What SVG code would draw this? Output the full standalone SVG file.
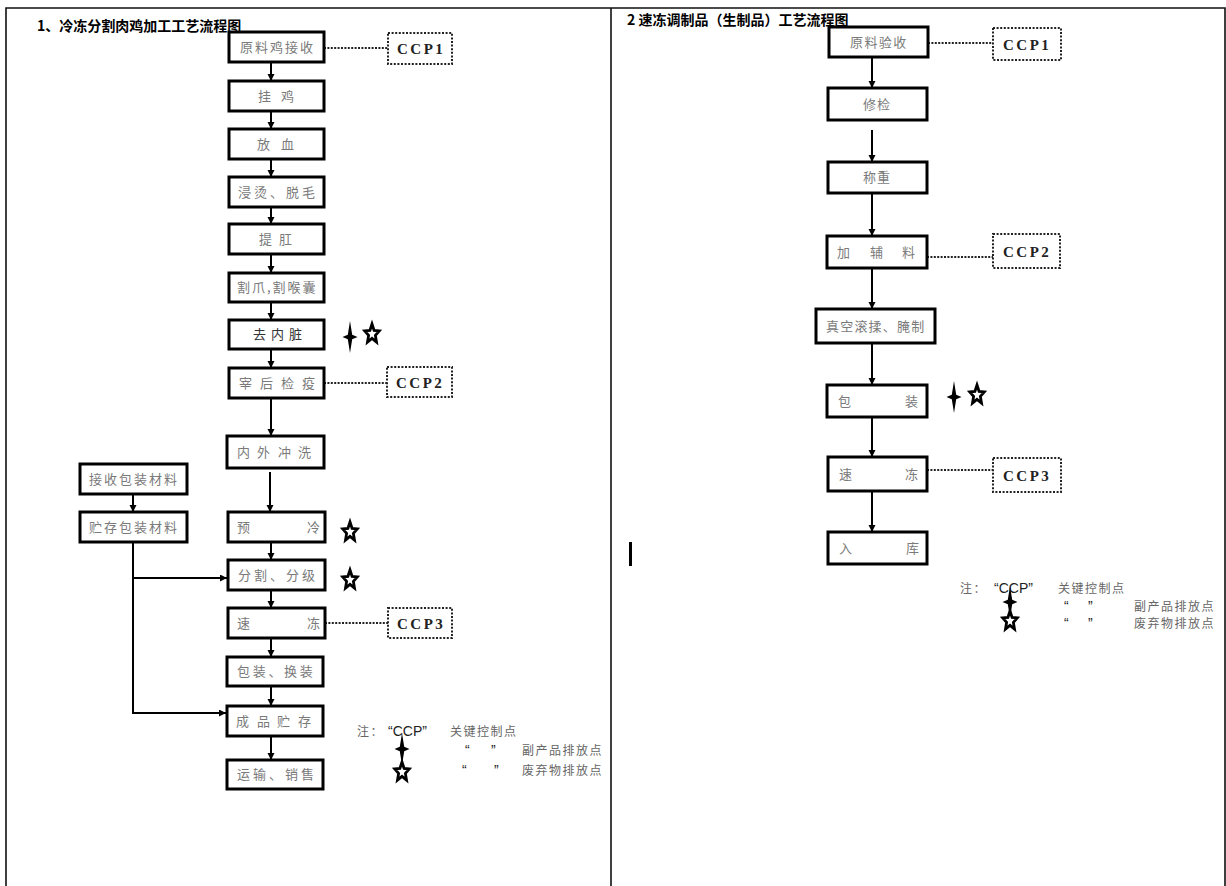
<svg xmlns="http://www.w3.org/2000/svg" width="1226" height="886" viewBox="0 0 1226 886">
<style>
.frame{stroke:#111;stroke-width:1.6;fill:none}
.box{fill:#fff;stroke:#000;stroke-width:3}
.ccp{fill:#fff;stroke:#222;stroke-width:2;stroke-dasharray:2 1.6}
.dot{stroke:#222;stroke-width:2.2;stroke-dasharray:2 1.4;fill:none}
.ln{stroke:#000;stroke-width:2;fill:none}
.lbl{font-family:"Noto Sans CJK SC","Noto Sans CJK TC",sans-serif;font-size:13px;fill:#7a7a7a}
.dk{fill:#333}
.ccpt{font-family:"Liberation Serif",serif;font-weight:bold;font-size:15px;fill:#222;letter-spacing:2.5px}
.title{font-family:"Noto Sans CJK SC",sans-serif;font-weight:bold;font-size:14px;fill:#000}
.note{font-family:"Noto Sans CJK SC",sans-serif;font-size:12px;fill:#666;letter-spacing:1.5px}
.q{font-family:"Liberation Sans",sans-serif;font-size:14px;fill:#222}
.star{fill:#fff;stroke:#000;stroke-width:2.8;stroke-linejoin:miter}
</style>
<defs>
<marker id="ah" markerUnits="userSpaceOnUse" markerWidth="8" markerHeight="8" refX="7" refY="3.5" orient="auto">
<path d="M0,0 L7,3.5 L0,7 Z" fill="#000"/>
</marker>
<path id="spark" d="M0,-16 L2.2,-2.2 L7.5,0 L2.2,2.2 L0,16 L-2.2,2.2 L-7.5,0 L-2.2,-2.2 Z" fill="#000"/>
<polygon id="star" class="star" points="0,-10 2.1,-3.6 7.3,-3.1 3.4,1.4 4.5,8.1 0,4.4 -4.5,8.1 -3.4,1.4 -7.3,-3.1 -2.1,-3.6"/>
</defs>

<g id="frame">
<path class="frame" d="M6,886 V8 H1225 V886 M611,8 V886"/>
</g>

<g id="titles">
<text class="title" x="37" y="31">1、冷冻分割肉鸡加工工艺流程图</text>
<text class="title" x="627" y="25">2 速冻调制品（生制品）工艺流程图</text>
</g>

<g id="connectors">
<line class="ln" x1="271" y1="62" x2="271" y2="81" marker-end="url(#ah)"/>
<line class="ln" x1="271" y1="111" x2="271" y2="129" marker-end="url(#ah)"/>
<line class="ln" x1="271" y1="159" x2="271" y2="177" marker-end="url(#ah)"/>
<line class="ln" x1="271" y1="207" x2="271" y2="224" marker-end="url(#ah)"/>
<line class="ln" x1="271" y1="254" x2="271" y2="273" marker-end="url(#ah)"/>
<line class="ln" x1="271" y1="302" x2="271" y2="320" marker-end="url(#ah)"/>
<line class="ln" x1="271" y1="349" x2="271" y2="368" marker-end="url(#ah)"/>
<line class="ln" x1="271" y1="398" x2="271" y2="436" marker-end="url(#ah)"/>
<line class="ln" x1="270" y1="472" x2="270" y2="512" marker-end="url(#ah)"/>
<line class="ln" x1="271" y1="542" x2="271" y2="560" marker-end="url(#ah)"/>
<line class="ln" x1="271" y1="590" x2="271" y2="608" marker-end="url(#ah)"/>
<line class="ln" x1="271" y1="638" x2="271" y2="657" marker-end="url(#ah)"/>
<line class="ln" x1="271" y1="686" x2="271" y2="706" marker-end="url(#ah)"/>
<line class="ln" x1="271" y1="736" x2="271" y2="760" marker-end="url(#ah)"/>
<line class="ln" x1="133" y1="494" x2="133" y2="512" marker-end="url(#ah)"/>
<path class="ln" d="M133,542 V713 H226" marker-end="url(#ah)"/>
<path class="ln" d="M133,578 H227" marker-end="url(#ah)"/>
<line class="dot" x1="324" y1="48" x2="388" y2="48"/>
<line class="dot" x1="324" y1="383" x2="387" y2="383"/>
<line class="dot" x1="325" y1="623" x2="388" y2="623"/>
<line class="ln" x1="872" y1="57" x2="872" y2="88" marker-end="url(#ah)"/>
<line class="ln" x1="872" y1="130" x2="872" y2="162" marker-end="url(#ah)"/>
<line class="ln" x1="872" y1="193" x2="872" y2="236" marker-end="url(#ah)"/>
<line class="ln" x1="872" y1="268" x2="872" y2="309" marker-end="url(#ah)"/>
<line class="ln" x1="872" y1="343" x2="872" y2="385" marker-end="url(#ah)"/>
<line class="ln" x1="872" y1="417" x2="872" y2="457" marker-end="url(#ah)"/>
<line class="ln" x1="872" y1="491" x2="872" y2="532" marker-end="url(#ah)"/>
<line class="dot" x1="928" y1="43" x2="993" y2="43"/>
<line class="dot" x1="927" y1="257" x2="993" y2="257"/>
<line class="dot" x1="927" y1="470" x2="993" y2="470"/>
</g>

<g id="n-l1"><rect class="box" x="229" y="32" width="95" height="30"/><text class="lbl" x="240" y="52" letter-spacing="2">原料鸡接收</text></g>
<g id="n-l2"><rect class="box" x="229" y="81" width="95" height="30"/><text class="lbl" y="101"><tspan x="258">挂</tspan><tspan x="281">鸡</tspan></text></g>
<g id="n-l3"><rect class="box" x="229" y="129" width="95" height="30"/><text class="lbl" y="149"><tspan x="257">放</tspan><tspan x="281">血</tspan></text></g>
<g id="n-l4"><rect class="box" x="229" y="177" width="95" height="30"/><text class="lbl" x="238" y="197" letter-spacing="3">浸烫、脱毛</text></g>
<g id="n-l5"><rect class="box" x="229" y="224" width="95" height="30"/><text class="lbl" y="244"><tspan x="259">提</tspan><tspan x="279">肛</tspan></text></g>
<g id="n-l6"><rect class="box" x="229" y="273" width="95" height="29"/><text class="lbl" x="237" y="292" letter-spacing="2">割爪,割喉囊</text></g>
<g id="n-l7"><rect class="box" x="229" y="320" width="95" height="29"/><text class="lbl dk" y="339"><tspan x="253">去</tspan><tspan x="271">内</tspan><tspan x="289">脏</tspan></text></g>
<g id="n-l8"><rect class="box" x="229" y="368" width="95" height="30"/><text class="lbl" y="388"><tspan x="239">宰</tspan><tspan x="260">后</tspan><tspan x="281">检</tspan><tspan x="302">疫</tspan></text></g>
<g id="n-l9"><rect class="box" x="227" y="436" width="97" height="32"/><text class="lbl" y="457"><tspan x="237">内</tspan><tspan x="257">外</tspan><tspan x="278">冲</tspan><tspan x="298">洗</tspan></text></g>
<g id="n-p1"><rect class="box" x="80" y="464" width="107" height="30"/><text class="lbl" x="89" y="484" letter-spacing="2">接收包装材料</text></g>
<g id="n-p2"><rect class="box" x="80" y="512" width="107" height="30"/><text class="lbl" x="89" y="532" letter-spacing="2">贮存包装材料</text></g>
<g id="n-l10"><rect class="box" x="228" y="512" width="97" height="30"/><text class="lbl" y="532"><tspan x="237">预</tspan><tspan x="307">冷</tspan></text></g>
<g id="n-l11"><rect class="box" x="228" y="560" width="97" height="30"/><text class="lbl" x="238" y="580" letter-spacing="3">分割、分级</text></g>
<g id="n-l12"><rect class="box" x="228" y="608" width="97" height="30"/><text class="lbl" y="628"><tspan x="237">速</tspan><tspan x="307">冻</tspan></text></g>
<g id="n-l13"><rect class="box" x="227" y="657" width="96" height="29"/><text class="lbl" x="237" y="676" letter-spacing="2.7">包装、换装</text></g>
<g id="n-l14"><rect class="box" x="227" y="706" width="96" height="30"/><text class="lbl" y="726"><tspan x="236">成</tspan><tspan x="257">品</tspan><tspan x="277">贮</tspan><tspan x="298">存</tspan></text></g>
<g id="n-l15"><rect class="box" x="227" y="760" width="96" height="29"/><text class="lbl" x="237" y="779" letter-spacing="3">运输、销售</text></g>

<g id="ccp-l1"><rect class="ccp" x="388" y="33" width="64" height="31"/><text class="ccpt" x="397" y="54">CCP1</text></g>
<g id="ccp-l2"><rect class="ccp" x="387" y="367" width="65" height="30"/><text class="ccpt" x="396" y="388">CCP2</text></g>
<g id="ccp-l3"><rect class="ccp" x="388" y="608" width="64" height="30"/><text class="ccpt" x="397" y="629">CCP3</text></g>

<g id="mk-l">
<use href="#spark" x="350" y="337"/>
<use href="#star" x="372" y="334"/>
<use href="#star" x="350" y="532"/>
<use href="#star" x="350" y="580"/>
</g>

<g id="legend-l">
<text class="note" x="357" y="736">注：</text>
<text class="q" x="388" y="736">“CCP”</text>
<text class="note" x="450" y="736">关键控制点</text>
<text class="q" x="465" y="755">“</text><text class="q" x="491" y="755">”</text>
<text class="note" x="522" y="755">副产品排放点</text>
<text class="q" x="462" y="775">“</text><text class="q" x="494" y="775">”</text>
<text class="note" x="522" y="775">废弃物排放点</text>
<use href="#spark" x="402" y="749"/>
<use href="#star" x="402" y="772"/>
</g>

<g id="n-r1"><rect class="box" x="829" y="27" width="99" height="30"/><text class="lbl" x="850" y="47" letter-spacing="1.4">原料验收</text></g>
<g id="n-r2"><rect class="box" x="828" y="88" width="99" height="32"/><text class="lbl" x="863" y="109" letter-spacing="1">修检</text></g>
<g id="n-r3"><rect class="box" x="828" y="162" width="99" height="31"/><text class="lbl" x="863" y="182" letter-spacing="1">称重</text></g>
<g id="n-r4"><rect class="box" x="827" y="236" width="100" height="32"/><text class="lbl" y="257"><tspan x="837">加</tspan><tspan x="870">辅</tspan><tspan x="902">料</tspan></text></g>
<g id="n-r5"><rect class="box" x="816" y="309" width="119" height="34"/><text class="lbl" x="826" y="331" letter-spacing="1.2">真空滚揉、腌制</text></g>
<g id="n-r6"><rect class="box" x="827" y="385" width="100" height="32"/><text class="lbl" y="406"><tspan x="838">包</tspan><tspan x="905">装</tspan></text></g>
<g id="n-r7"><rect class="box" x="828" y="457" width="99" height="34"/><text class="lbl" y="479"><tspan x="839">速</tspan><tspan x="905">冻</tspan></text></g>
<g id="n-r8"><rect class="box" x="828" y="532" width="99" height="32"/><text class="lbl" y="553"><tspan x="839">入</tspan><tspan x="906">库</tspan></text></g>

<g id="ccp-r1"><rect class="ccp" x="993" y="28" width="68" height="32"/><text class="ccpt" x="1003" y="50">CCP1</text></g>
<g id="ccp-r2"><rect class="ccp" x="993" y="234" width="67" height="34"/><text class="ccpt" x="1003" y="257">CCP2</text></g>
<g id="ccp-r3"><rect class="ccp" x="993" y="458" width="68" height="34"/><text class="ccpt" x="1003" y="481">CCP3</text></g>

<g id="mk-r">
<use href="#spark" x="954" y="397"/>
<use href="#star" x="977" y="395"/>
</g>

<rect id="bar" x="629" y="542" width="3" height="24" fill="#000"/>

<g id="legend-r">
<text class="note" x="960" y="593">注：</text>
<text class="q" x="994" y="593">“CCP”</text>
<text class="note" x="1058" y="593">关键控制点</text>
<text class="q" x="1064" y="611">“</text><text class="q" x="1088" y="611">”</text>
<text class="note" x="1134" y="611">副产品排放点</text>
<text class="q" x="1064" y="628">“</text><text class="q" x="1088" y="628">”</text>
<text class="note" x="1134" y="628">废弃物排放点</text>
<use href="#spark" x="1010" y="602"/>
<use href="#star" x="1010" y="621"/>
</g>
</svg>
